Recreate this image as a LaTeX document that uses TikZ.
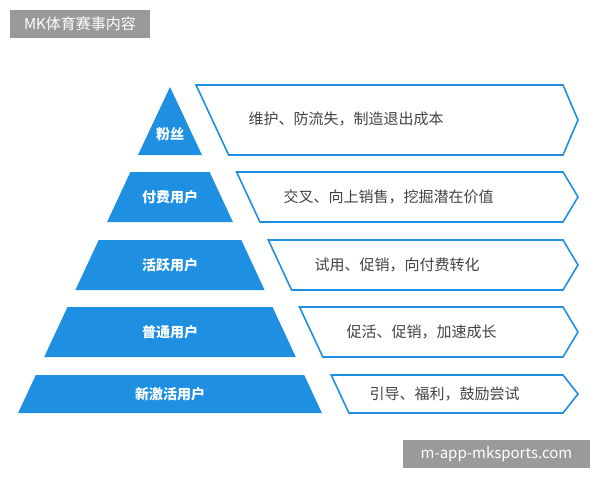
\documentclass[tikz,border=0pt]{standalone}
\usepackage{fontspec}
\setmainfont{Noto Sans CJK SC}
\definecolor{pyblue}{HTML}{1E8FE1}
\definecolor{txtgray}{HTML}{444444}
\definecolor{tagbg}{HTML}{9A9A9A}
\tikzset{
  layer/.style={fill=pyblue},
  goalbox/.style={draw=pyblue,line width=1.6pt,fill=white,line join=miter},
  layertext/.style={text=white,font=\bfseries\fontsize{14}{16}\selectfont},
  goaltext/.style={text=txtgray,anchor=west,font=\fontsize{15}{17}\selectfont},
  tag/.style={fill=tagbg,text=white,font=\fontsize{15}{17}\selectfont,inner sep=0pt,minimum height=28pt}
}
\begin{document}
\begin{tikzpicture}[x=1pt,y=-1pt]
\useasboundingbox (0,0) rectangle (600,480);

% pyramid, edge slope 0.466 from apex (170,87)
\fill[layer] (170,87) -- (202,155) -- (138,155) -- cycle;
\foreach \t/\b in {172/222, 240/290, 307/357, 375/413}{
  \pgfmathsetmacro\dt{(\t-87)*0.466}
  \pgfmathsetmacro\db{(\b-87)*0.466}
  \fill[layer] (170-\dt,\t) -- (170+\dt,\t) -- (170+\db,\b) -- (170-\db,\b) -- cycle;
}

% goal arrows
\foreach \t/\b in {85/155, 172/222, 240/290, 307/357, 375/413}{
  \pgfmathsetmacro\lt{170+(\t-87)*0.466+27}
  \pgfmathsetmacro\lb{170+(\b-87)*0.466+27}
  \draw[goalbox] (\lt,\t) -- (563,\t) -- (578,{(\t+\b)/2}) -- (563,\b) -- (\lb,\b) -- cycle;
}

% layer names
\node[layertext] (fans) at (170,134) {粉丝};
\node[layertext] (paid) at (170,197) {付费用户};
\node[layertext] (active) at (170,265) {活跃用户};
\node[layertext] (normal) at (170,332) {普通用户};
\node[layertext] (fresh) at (170,394) {新激活用户};

% goals
\node[goaltext] (gfans) at (245,119) {维护、防流失，制造退出成本};
\node[goaltext] (gpaid) at (280,197) {交叉、向上销售，挖掘潜在价值};
\node[goaltext] (gactive) at (311,265) {试用、促销，向付费转化};
\node[goaltext] (gnormal) at (343,332) {促活、促销，加速成长};
\node[goaltext] (gfresh) at (366,394) {引导、福利，鼓励尝试};

% watermark tags
\node[tag,minimum width=140pt] (title) at (80,24) {MK体育赛事内容};
\node[tag,minimum width=187pt] (site) at (496.5,454) {m-app-mksports.com};
\end{tikzpicture}
\end{document}
